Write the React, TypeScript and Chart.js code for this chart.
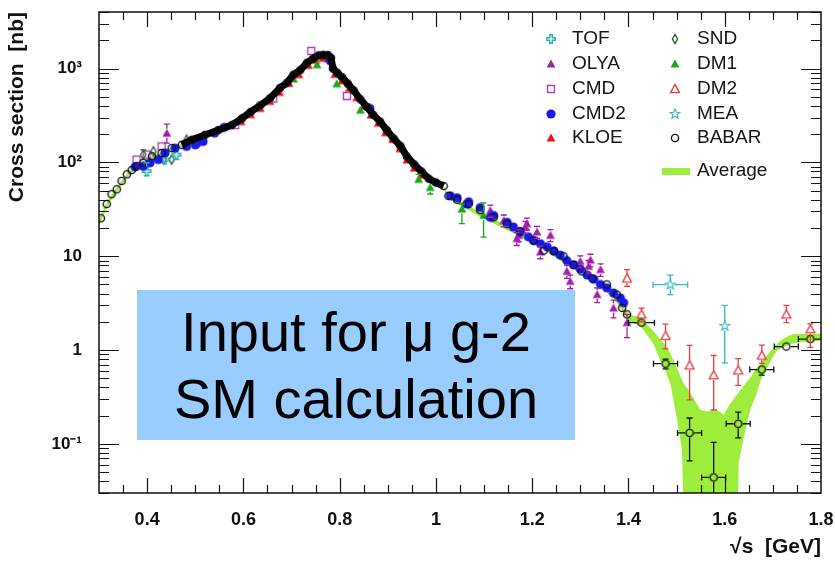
import React, { useEffect, useRef } from 'react';
import { Chart, registerables } from 'chart.js';

Chart.register(...registerables);

const FONT = '"Liberation Sans", Arial, Helvetica, sans-serif';

// ---------- axis ticks ----------
const xTickValues = [0.4, 0.6, 0.8, 1.0, 1.2, 1.4, 1.6, 1.8];
const yTickValues = [0.1, 1, 10, 100, 1000];
const yTickLabels = ['10\u207B\u00B9', '1', '10', '10\u00B2', '10\u00B3'];

// ---------- Average band ----------
const bandX = [0.300, 0.320, 0.340, 0.360, 0.380, 0.400, 0.450, 0.500, 0.550, 0.600, 0.650, 0.700, 0.750, 0.770, 0.780, 0.785, 0.800, 0.850, 0.900, 0.950, 1.000, 1.015, 1.025, 1.100, 1.200, 1.300, 1.350, 1.380, 1.400, 1.425, 1.452, 1.466, 1.480, 1.487, 1.501, 1.511, 1.516, 1.525, 1.549, 1.563, 1.584, 1.598, 1.612, 1.626, 1.629, 1.633, 1.643, 1.654, 1.664, 1.675, 1.681, 1.702, 1.709, 1.723, 1.737, 1.743, 1.757, 1.800];
const bandHi = [25, 41, 57, 78, 95, 108, 145, 178, 230, 305, 470, 800, 1330, 1400, 1340, 1000, 870, 430, 215, 102, 63, 58, 45, 28, 15.5, 7.4, 5.0, 3.4, 2.42, 2.21, 1.60, 1.30, 1.07, 0.92, 0.64, 0.48, 0.43, 0.375, 0.231, 0.222, 0.231, 0.205, 0.272, 0.34, 0.35, 0.375, 0.44, 0.517, 0.62, 0.716, 0.8, 1.07, 1.17, 1.34, 1.45, 1.48, 1.48, 1.48];
const bandLo = [21, 36, 51, 71, 88, 100, 136, 167, 215, 288, 445, 760, 1270, 1340, 1280, 950, 830, 410, 205, 96, 59, 54, 41, 25, 14, 6.6, 4.4, 3.0, 2.04, 1.81, 1.16, 0.775, 0.55, 0.441, 0.181, 0.0875, 0.01, 0.01, 0.01, 0.01, 0.01, 0.01, 0.01, 0.01, 0.0634, 0.08, 0.142, 0.24, 0.319, 0.48, 0.561, 0.88, 0.988, 1.08, 1.16, 1.18, 1.21, 1.26];

// ---------- BABAR ----------
const babarX = [0.304, 0.316, 0.326, 0.337, 0.347, 0.358, 0.368, 0.378, 0.392, 0.41, 0.43, 0.451, 0.472, 0.493, 0.52, 0.548, 0.576, 0.597, 0.615, 0.635, 0.655, 0.676, 0.69, 0.704, 0.718, 0.732, 0.745, 0.756, 0.766, 0.776, 0.782, 0.786, 0.795, 0.805, 0.817, 0.829, 0.843, 0.857, 0.87, 0.884, 0.898, 0.912, 0.926, 0.94, 0.955, 0.97, 0.985, 1.0, 1.016, 1.026, 1.044, 1.068, 1.092, 1.12, 1.148, 1.175, 1.203, 1.224, 1.245, 1.265, 1.286, 1.303, 1.325, 1.355, 1.376, 1.387, 1.397, 1.427, 1.477, 1.527, 1.577, 1.628, 1.677, 1.728, 1.778];
const babarY = [25.4, 36, 45.8, 51.7, 63.4, 74.5, 82.8, 91, 99, 116, 126, 142, 154, 174, 196, 221, 250, 294, 345, 405, 480, 620, 700, 860, 960, 1150, 1280, 1380, 1400, 1390, 1300, 1000, 900, 807, 690, 584, 470, 389, 320, 272, 220, 180, 150, 115, 95, 80, 67, 61, 56, 44, 40, 36, 31, 26, 22, 18.5, 14.7, 11.5, 11.3, 10.0, 8.1, 6.9, 5.8, 5.0, 3.9, 2.82, 2.4, 1.96, 0.716, 0.131, 0.044, 0.164, 0.62, 1.09, 1.31];
const babarErrX = [1.427, 1.477, 1.527, 1.577, 1.628, 1.677, 1.728, 1.778];
const babarErrY = [1.96, 0.716, 0.131, 0.044, 0.164, 0.62, 1.09, 1.31];
const babarErrLo = [1.8, 0.63, 0.066, 0.001, 0.116, 0.54, 1.0, 1.22];
const babarErrHi = [2.1, 0.8, 0.189, 0.104, 0.218, 0.69, 1.18, 1.4];
const babarErrXe = [0.027, 0.025, 0.025, 0.025, 0.025, 0.025, 0.025, 0.025];

// ---------- TOF ----------
const tofX = [0.399, 0.437, 0.461];
const tofY = [80.7, 107, 121];
const tofLo = [71.8, 97, 107];
const tofHi = [99, 117, 132];

// ---------- OLYA ----------
const olyaX = [0.441, 1.113, 1.141, 1.168, 1.172, 1.186, 1.189, 1.21, 1.217, 1.238, 1.272, 1.279, 1.3, 1.317, 1.321, 1.335, 1.342, 1.369, 1.397];
const olyaY = [204, 30.6, 24, 15.4, 16.7, 20.4, 22.2, 18.1, 11.1, 16.7, 6.9, 5.4, 8.8, 7.8, 9.1, 3.9, 7.2, 2.8, 1.96];
const olyaLo = [160, 26, 20.5, 13, 14.2, 17.5, 19, 15.5, 9.4, 14.3, 5.8, 4.5, 7.5, 6.6, 7.7, 3.2, 6.1, 2.2, 1.36];
const olyaHi = [255, 35, 27.5, 17.8, 19.2, 23.5, 25.5, 20.8, 12.8, 19.2, 8.0, 6.3, 10.1, 9.0, 10.5, 4.6, 8.3, 3.4, 2.4];

// ---------- CMD ----------
const cmdX = [0.378, 0.399, 0.43, 0.583, 0.662, 0.741, 0.815];
const cmdY = [107, 121, 148, 250, 478, 1538, 510];

// ---------- CMD2 ----------
const cmd2X = [0.375, 0.392, 0.406, 0.423, 0.437, 0.458, 0.482, 0.5, 0.503, 0.514, 0.516, 0.54, 0.56, 0.78, 0.863, 1.03, 1.044, 1.064, 1.068, 1.092, 1.113, 1.12, 1.148, 1.161, 1.175, 1.192, 1.203, 1.217, 1.231, 1.245, 1.258, 1.272, 1.286, 1.30, 1.314, 1.328, 1.342, 1.355, 1.369, 1.383, 1.39];
const cmd2Y = [89.5, 91, 99, 107, 126, 142, 148, 154, 160, 181, 167, 205, 236, 1216, 376, 44, 42, 36, 38, 33, 26, 27.2, 23, 20.5, 18.1, 16.1, 14.7, 13.6, 12.6, 11.4, 10.3, 9.0, 8.1, 7.3, 6.3, 5.7, 5.0, 4.6, 4.06, 3.6, 3.19];

// ---------- KLOE ----------
const kloeX = [0.595, 0.615, 0.635, 0.655, 0.675, 0.695, 0.715, 0.735, 0.75, 0.765, 0.775, 0.79, 0.805, 0.82, 0.835, 0.85, 0.865, 0.88, 0.895, 0.91, 0.925, 0.94, 0.955, 0.97];
const kloeY = [272, 322, 376, 446, 556, 695, 860, 1080, 1225, 1290, 1280, 865, 740, 615, 490, 398, 320, 262, 207, 176, 140, 106, 87, 73];

// ---------- SND ----------
const sndX = [0.392, 0.413, 0.434, 0.451, 0.482];
const sndY = [121, 131, 107, 107, 174];
const sndLo = [110, 118, 98, 96, 160];
const sndHi = [136, 145, 118, 118, 188];

// ---------- DM1 ----------
const dm1X = [0.704, 0.753, 0.794, 0.843, 0.964, 0.988, 1.054, 1.099];
const dm1Y = [774, 1097, 687, 360, 65.9, 53.9, 31.8, 27.2];
const dm1ErrX = [0.964, 0.988, 1.054, 1.099];
const dm1ErrY = [65.9, 53.9, 31.8, 27.2];
const dm1ErrLo = [60.8, 46, 22.2, 16];
const dm1ErrHi = [74.5, 60, 36, 37];

// ---------- DM2 ----------
const dm2X = [1.397, 1.427, 1.477, 1.527, 1.577, 1.628, 1.677, 1.728, 1.778];
const dm2Y = [5.8, 2.4, 1.42, 0.687, 0.54, 0.608, 0.875, 2.4, 1.67];
const dm2Lo = [4.76, 2.0, 1.03, 0.294, 0.23, 0.42, 0.72, 1.96, 1.07];
const dm2Hi = [7.2, 2.8, 1.89, 1.12, 0.875, 0.81, 1.13, 3.0, 1.9];

// ---------- MEA ----------
const meaX = [1.487, 1.60];
const meaY = [4.98, 1.81];
const meaLo = [3.9, 0.73];
const meaHi = [6.3, 3.0];
const meaXe = [0.036, 0];

// ---------- legend ----------
const legendCol1 = ['TOF', 'OLYA', 'CMD', 'CMD2', 'KLOE'];
const legendCol2 = ['SND', 'DM1', 'DM2', 'MEA', 'BABAR'];
const averageLabel = 'Average';

const COLORS: Record<string, string> = {
  TOF: '#1fb5b5',
  OLYA: '#a020a8',
  CMD: '#b040c0',
  CMD2: '#1a1aee',
  KLOE: '#ee1111',
  SND: '#2f5f2f',
  DM1: '#18a818',
  DM2: '#e84040',
  MEA: '#30b8c8',
  BABAR: '#111111',
  Average: '#9eec3c',
};

const SHAPES: Record<string, string> = {
  TOF: 'crossOpen',
  OLYA: 'triFilled',
  CMD: 'squareOpen',
  CMD2: 'circleFilled',
  KLOE: 'triFilled',
  SND: 'diamondOpen',
  DM1: 'triFilled',
  DM2: 'triOpen',
  MEA: 'starOpen',
  BABAR: 'circleOpen',
};

function makeMarker(kind: string, color: string): HTMLCanvasElement {
  const s = 14;
  const c = document.createElement('canvas');
  c.width = s;
  c.height = s;
  const g = c.getContext('2d')!;
  g.translate(s / 2, s / 2);
  g.strokeStyle = color;
  g.fillStyle = color;
  g.lineWidth = 1.4;
  g.beginPath();
  if (kind === 'circleOpen') {
    g.arc(0, 0, 3.6, 0, Math.PI * 2);
    g.stroke();
  } else if (kind === 'circleFilled') {
    g.arc(0, 0, 4.6, 0, Math.PI * 2);
    g.fill();
  } else if (kind === 'triFilled' || kind === 'triOpen') {
    g.moveTo(0, -4.6);
    g.lineTo(4.4, 3.6);
    g.lineTo(-4.4, 3.6);
    g.closePath();
    if (kind === 'triFilled') g.fill();
    else g.stroke();
  } else if (kind === 'squareOpen') {
    g.rect(-3.5, -3.5, 7, 7);
    g.stroke();
  } else if (kind === 'diamondOpen') {
    g.moveTo(0, -4.6);
    g.lineTo(2.6, 0);
    g.lineTo(0, 4.6);
    g.lineTo(-2.6, 0);
    g.closePath();
    g.stroke();
  } else if (kind === 'crossOpen') {
    const a = 1.3, b = 4.2;
    const p = [[-a, -b], [a, -b], [a, -a], [b, -a], [b, a], [a, a], [a, b], [-a, b], [-a, a], [-b, a], [-b, -a], [-a, -a]];
    p.forEach((q, i) => (i ? g.lineTo(q[0], q[1]) : g.moveTo(q[0], q[1])));
    g.closePath();
    g.stroke();
  } else if (kind === 'starOpen') {
    for (let i = 0; i < 10; i++) {
      const r = i % 2 === 0 ? 5.2 : 2.2;
      const ang = -Math.PI / 2 + (i * Math.PI) / 5;
      const px = r * Math.cos(ang), py = r * Math.sin(ang);
      i ? g.lineTo(px, py) : g.moveTo(px, py);
    }
    g.closePath();
    g.lineWidth = 1.1;
    g.stroke();
  }
  return c;
}

const pts = (xs: number[], ys: number[]) => xs.map((x, i) => ({ x, y: ys[i] }));

const zeroPad = (s: any) => {
  s.paddingLeft = 0;
  s.paddingRight = 0;
  s.paddingTop = 0;
  s.paddingBottom = 0;
};

export default function App() {
  const ref = useRef<HTMLCanvasElement>(null);

  useEffect(() => {
    const canvas = ref.current!;
    const M: Record<string, HTMLCanvasElement> = {};
    Object.keys(SHAPES).forEach((k) => (M[k] = makeMarker(SHAPES[k], COLORS[k])));

    const marker = (name: string, xs: number[], ys: number[], order: number, err?: any) => ({
      label: name,
      data: pts(xs, ys),
      pointStyle: M[name],
      pointRadius: 5,
      showLine: false,
      order,
      errorBars: err,
      errColor: COLORS[name],
    });

    const datasets: any[] = [
      {
        label: 'Average',
        data: pts(bandX, bandHi),
        showLine: true,
        borderWidth: 0,
        borderColor: COLORS.Average,
        backgroundColor: COLORS.Average,
        pointRadius: 0,
        fill: '+1',
        order: 100,
      },
      {
        label: 'Average-low',
        data: pts(bandX, bandLo),
        showLine: true,
        borderWidth: 0,
        borderColor: COLORS.Average,
        pointRadius: 0,
        fill: false,
        order: 101,
      },
      marker('KLOE', kloeX, kloeY, 9),
      marker('DM1', dm1X, dm1Y, 8, { x: dm1ErrX, y: dm1ErrY, lo: dm1ErrLo, hi: dm1ErrHi }),
      marker('CMD', cmdX, cmdY, 7),
      marker('SND', sndX, sndY, 6, { x: sndX, y: sndY, lo: sndLo, hi: sndHi }),
      marker('TOF', tofX, tofY, 5, { x: tofX, y: tofY, lo: tofLo, hi: tofHi }),
      marker('OLYA', olyaX, olyaY, 4, { x: olyaX, y: olyaY, lo: olyaLo, hi: olyaHi }),
      marker('DM2', dm2X, dm2Y, 3, { x: dm2X, y: dm2Y, lo: dm2Lo, hi: dm2Hi }),
      marker('MEA', meaX, meaY, 2, { x: meaX, y: meaY, lo: meaLo, hi: meaHi, xe: meaXe }),
      marker('CMD2', cmd2X, cmd2Y, 1),
      {
        ...marker('BABAR', babarX, babarY, 0, { x: babarErrX, y: babarErrY, lo: babarErrLo, hi: babarErrHi, xe: babarErrXe }),
        showLine: true,
        borderWidth: 7,
        borderColor: '#000',
        segment: {
          borderColor: (c: any) => (c.p0.parsed.x >= 0.47 && c.p1.parsed.x <= 1.017 ? '#000' : 'rgba(0,0,0,0)'),
        },
      },
    ];

    const errorBarPlugin = {
      id: 'errbars',
      afterDatasetsDraw(chart: any) {
        const { ctx, chartArea: a } = chart;
        const xs = chart.scales.x, ys = chart.scales.y;
        ctx.save();
        ctx.beginPath();
        ctx.rect(a.left, a.top, a.right - a.left, a.bottom - a.top);
        ctx.clip();
        chart.data.datasets.forEach((ds: any) => {
          const e = ds.errorBars;
          if (!e) return;
          ctx.strokeStyle = ds.errColor;
          ctx.lineWidth = 1.3;
          const gap = 4.5, cap = 3;
          e.x.forEach((xv: number, i: number) => {
            const px = xs.getPixelForValue(xv);
            const py = ys.getPixelForValue(e.y[i]);
            ctx.beginPath();
            const ph = ys.getPixelForValue(e.hi[i]);
            if (ph < py - gap) {
              ctx.moveTo(px, py - gap);
              ctx.lineTo(px, ph);
              ctx.moveTo(px - cap, ph);
              ctx.lineTo(px + cap, ph);
            }
            const pl = ys.getPixelForValue(e.lo[i]);
            if (pl > py + gap) {
              ctx.moveTo(px, py + gap);
              ctx.lineTo(px, pl);
              ctx.moveTo(px - cap, pl);
              ctx.lineTo(px + cap, pl);
            }
            if (e.xe && e.xe[i]) {
              const xl = xs.getPixelForValue(xv - e.xe[i]);
              const xr = xs.getPixelForValue(xv + e.xe[i]);
              ctx.moveTo(xl, py);
              ctx.lineTo(px - gap, py);
              ctx.moveTo(px + gap, py);
              ctx.lineTo(xr, py);
              ctx.moveTo(xl, py - cap);
              ctx.lineTo(xl, py + cap);
              ctx.moveTo(xr, py - cap);
              ctx.lineTo(xr, py + cap);
            }
            ctx.stroke();
          });
        });
        ctx.restore();
      },
    };

    const framePlugin = {
      id: 'frame',
      afterDraw(chart: any) {
        const { ctx, chartArea: a } = chart;
        const xs = chart.scales.x, ys = chart.scales.y;
        ctx.save();
        ctx.strokeStyle = '#111';
        ctx.lineWidth = 1.5;
        ctx.strokeRect(a.left, a.top, a.right - a.left, a.bottom - a.top);
        ctx.lineWidth = 1.2;
        ctx.beginPath();
        for (let i = 7; i <= 35; i++) {
          const v = i * 0.05;
          const major = i % 4 === 0;
          const len = major ? 15 : 8;
          const px = Math.round(xs.getPixelForValue(v)) + 0.5;
          ctx.moveTo(px, a.bottom);
          ctx.lineTo(px, a.bottom - len);
          ctx.moveTo(px, a.top);
          ctx.lineTo(px, a.top + len);
        }
        for (let k = -2; k <= 3; k++) {
          for (let d = 1; d <= 9; d++) {
            const v = d * Math.pow(10, k);
            if (v < 0.03 || v > 4000) continue;
            const len = d === 1 ? 20 : 10;
            const py = Math.round(ys.getPixelForValue(v)) + 0.5;
            ctx.moveTo(a.left, py);
            ctx.lineTo(a.left + len, py);
            ctx.moveTo(a.right, py);
            ctx.lineTo(a.right - len, py);
          }
        }
        ctx.stroke();
        ctx.restore();
      },
    };

    const legendPlugin = {
      id: 'customLegend',
      afterDraw(chart: any) {
        const { ctx } = chart;
        ctx.save();
        ctx.font = `19px ${FONT}`;
        ctx.fillStyle = '#151515';
        ctx.textBaseline = 'middle';
        ctx.textAlign = 'left';
        const rows = [39, 64, 89, 114, 138];
        legendCol1.forEach((n, i) => {
          const m = M[n];
          ctx.drawImage(m, 551 - m.width / 2, rows[i] - m.height / 2);
          ctx.fillText(n, 572, rows[i]);
        });
        legendCol2.forEach((n, i) => {
          const m = M[n];
          ctx.drawImage(m, 675 - m.width / 2, rows[i] - m.height / 2);
          ctx.fillText(n, 697, rows[i]);
        });
        ctx.fillStyle = COLORS.Average;
        ctx.fillRect(662, 168, 28, 7);
        ctx.fillStyle = '#151515';
        ctx.fillText(averageLabel, 697, 171);
        ctx.restore();
      },
    };

    const chart = new Chart(canvas, {
      type: 'scatter',
      data: { datasets },
      options: {
        responsive: false,
        animation: false,
        layout: { padding: { top: 7, right: 14, left: 0, bottom: 0 } },
        plugins: { legend: { display: false }, tooltip: { enabled: false } },
        elements: { line: { tension: 0 } },
        scales: {
          x: {
            type: 'linear',
            min: 0.3,
            max: 1.8,
            grid: { display: false },
            border: { display: false },
            afterBuildTicks: (s: any) => {
              s.ticks = xTickValues.map((v) => ({ value: v }));
            },
            afterFit: (s: any) => {
              s.height = 68;
              zeroPad(s);
            },
            ticks: {
              padding: 8,
              color: '#111',
              font: { family: FONT, size: 18, weight: 'bold' },
              callback: (v: any) => String(Math.round(Number(v) * 10) / 10),
              maxRotation: 0,
            },
            title: {
              display: true,
              text: '\u221As  [GeV]',
              align: 'end',
              color: '#111',
              font: { family: FONT, size: 21, weight: 'bold' },
              padding: { top: 0, bottom: 1 },
            },
          },
          y: {
            type: 'logarithmic',
            min: 0.03,
            max: 4000,
            grid: { display: false },
            border: { display: false },
            afterBuildTicks: (s: any) => {
              s.ticks = yTickValues.map((v) => ({ value: v }));
            },
            afterFit: (s: any) => {
              s.width = 99;
              zeroPad(s);
            },
            ticks: {
              padding: 9,
              color: '#111',
              font: { family: FONT, size: 17, weight: 'bold' },
              callback: (v: any) => {
                const i = yTickValues.indexOf(Number(v));
                return i >= 0 ? yTickLabels[i] : '';
              },
            },
            title: {
              display: true,
              text: 'Cross section  [nb]',
              align: 'end',
              color: '#111',
              font: { family: FONT, size: 21, weight: 'bold' },
              padding: { top: 5, bottom: 0 },
            },
          },
        },
      } as any,
      plugins: [errorBarPlugin, framePlugin, legendPlugin],
    });

    return () => chart.destroy();
  }, []);

  return (
    <div style={{ position: 'fixed', left: 0, top: 0, width: 835, height: 561, background: '#fff', overflow: 'hidden' }}>
      <canvas ref={ref} width={835} height={561} style={{ width: 835, height: 561, display: 'block' }} />
      <div
        style={{
          position: 'absolute',
          left: 137,
          top: 290,
          width: 438,
          height: 150,
          background: '#99ccff',
          color: '#000',
          fontFamily: FONT,
          fontSize: 56,
          lineHeight: '66.7px',
          textAlign: 'center',
          paddingTop: 9,
          boxSizing: 'border-box',
        }}
      >
        Input for μ g-2
        <br />
        SM calculation
      </div>
    </div>
  );
}
